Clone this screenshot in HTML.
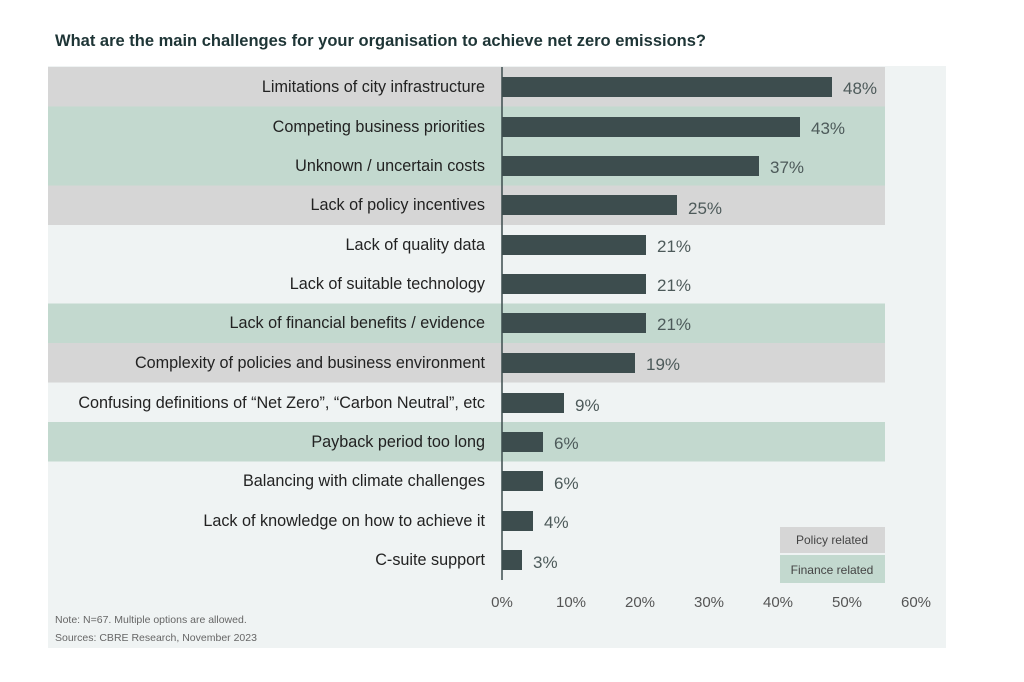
<!DOCTYPE html>
<html><head><meta charset="utf-8"><style>
html,body{margin:0;padding:0;background:#fff;}
svg{display:block;font-family:"Liberation Sans",sans-serif;}
</style></head><body>
<svg width="1024" height="682" viewBox="0 0 1024 682">
<text x="55" y="46" font-size="16.5" font-weight="bold" fill="#1e3536">What are the main challenges for your organisation to achieve net zero emissions?</text>
<rect x="48" y="66" width="898" height="582" fill="#eff3f3"/>
<rect x="48" y="67" width="837" height="39.5" fill="#d6d6d6"/>
<rect x="48" y="106.5" width="837" height="79" fill="#c3d9cf"/>
<rect x="48" y="185.5" width="837" height="39.5" fill="#d6d6d6"/>
<rect x="48" y="303.5" width="837" height="39.5" fill="#c3d9cf"/>
<rect x="48" y="343" width="837" height="39.5" fill="#d6d6d6"/>
<rect x="48" y="422" width="837" height="39.5" fill="#c3d9cf"/>
<rect x="780" y="527" width="105" height="26" fill="#d6d6d6"/>
<rect x="780" y="555" width="105" height="28" fill="#c3d9cf"/>
<text x="832" y="544" font-size="12" fill="#444" text-anchor="middle">Policy related</text>
<text x="832" y="574" font-size="12" fill="#444" text-anchor="middle">Finance related</text>
<line x1="502" y1="67" x2="502" y2="580" stroke="#3d4d4e" stroke-width="1.5"/>
<g font-size="16.2" fill="#222" text-anchor="end">
<text x="485" y="92">Limitations of city infrastructure</text>
<text x="485" y="132">Competing business priorities</text>
<text x="485" y="171">Unknown / uncertain costs</text>
<text x="485" y="210">Lack of policy incentives</text>
<text x="485" y="250">Lack of quality data</text>
<text x="485" y="289">Lack of suitable technology</text>
<text x="485" y="328">Lack of financial benefits / evidence</text>
<text x="485" y="368">Complexity of policies and business environment</text>
<text x="485" y="408">Confusing definitions of “Net Zero”, “Carbon Neutral”, etc</text>
<text x="485" y="447">Payback period too long</text>
<text x="485" y="486">Balancing with climate challenges</text>
<text x="485" y="526">Lack of knowledge on how to achieve it</text>
<text x="485" y="565">C-suite support</text>
</g>
<g fill="#3d4d4e">
<rect x="502" y="77" width="330" height="20"/>
<rect x="502" y="117" width="298" height="20"/>
<rect x="502" y="156" width="257" height="20"/>
<rect x="502" y="195" width="175" height="20"/>
<rect x="502" y="235" width="144" height="20"/>
<rect x="502" y="274" width="144" height="20"/>
<rect x="502" y="313" width="144" height="20"/>
<rect x="502" y="353" width="133" height="20"/>
<rect x="502" y="393" width="62" height="20"/>
<rect x="502" y="432" width="41" height="20"/>
<rect x="502" y="471" width="41" height="20"/>
<rect x="502" y="511" width="31" height="20"/>
<rect x="502" y="550" width="20" height="20"/>
</g>
<g font-size="17" fill="#4d5a5a">
<text x="843" y="94">48%</text>
<text x="811" y="134">43%</text>
<text x="770" y="173">37%</text>
<text x="688" y="214">25%</text>
<text x="657" y="252">21%</text>
<text x="657" y="291">21%</text>
<text x="657" y="330">21%</text>
<text x="646" y="370">19%</text>
<text x="575" y="411">9%</text>
<text x="554" y="449">6%</text>
<text x="554" y="489">6%</text>
<text x="544" y="528">4%</text>
<text x="533" y="568">3%</text>
</g>
<g font-size="15" fill="#555" text-anchor="middle">
<text x="502" y="607">0%</text>
<text x="571" y="607">10%</text>
<text x="640" y="607">20%</text>
<text x="709" y="607">30%</text>
<text x="778" y="607">40%</text>
<text x="847" y="607">50%</text>
<text x="916" y="607">60%</text>
</g>
<text x="55" y="623" font-size="10.5" fill="#666">Note: N=67. Multiple options are allowed.</text>
<text x="55" y="641" font-size="10.5" fill="#666">Sources: CBRE Research, November 2023</text>
</svg>
</body></html>
